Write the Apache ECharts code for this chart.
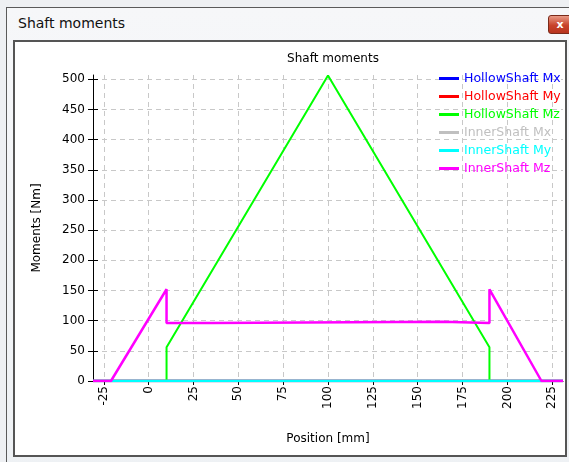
<!DOCTYPE html>
<html>
<head>
<meta charset="utf-8">
<script src="https://cdn.jsdelivr.net/npm/echarts@6/dist/echarts.min.js"></script>
<style>
  html, body { margin: 0; padding: 0; background: #eef0f3; }
  #wrap { position: relative; width: 569px; height: 462px; overflow: hidden; background: #eef0f3; }
  #win { position: absolute; left: 6px; top: 7px; width: 570px; height: 470px; border: 1px solid #5a5a5a; background: linear-gradient(#f6f7f9, #eef1f4); }
  #wtitle { position: absolute; left: 18px; top: 15px; font: 14px "DejaVu Sans", sans-serif; color: #111; }
  #close { position: absolute; left: 548px; top: 15px; width: 22px; height: 17px; border: 1px solid #7a2a1a; border-radius: 3px; background: linear-gradient(#e89a86, #c8432b 55%, #b8341e); color: #fff; font: bold 11px "DejaVu Sans", sans-serif; text-align: center; line-height: 17px; }
  #panel { position: absolute; left: 13px; top: 40px; width: 550px; height: 413px; border: 2px solid #555; background: #fff; }
  #chart { position: absolute; left: 0; top: 0; width: 569px; height: 462px; }
</style>
</head>
<body>
<div id="wrap">
  <div id="win"></div>
  <div id="wtitle">Shaft moments</div>
  <div id="close">x</div>
  <div id="panel"></div>
  <div id="chart"></div>
</div>
<script>
// ---- data ----
const seriesNames = ['HollowShaft Mx', 'HollowShaft My', 'HollowShaft Mz', 'InnerShaft Mx', 'InnerShaft My', 'InnerShaft Mz'];
const seriesColors = ['#0000ff', '#ff0000', '#00ff00', '#c0c0c0', '#00ffff', '#ff00ff'];

const zeroPos = [-31, 231];
const zeroVals = [0, 0];

const hollowMzPos = [-31, 10, 10, 100, 190, 190, 231];
const hollowMzVals = [0, 0, 56, 506, 56, 0, 0];

const innerMzPos = [-31, -21, 10, 10, 35, 35, 164, 164, 190, 190, 219, 231];
const innerMzVals = [0, 0, 152, 96, 96, 98, 98, 96, 96, 152, 0, 0];

const xTickValues = [-25, 0, 25, 50, 75, 100, 125, 150, 175, 200, 225];
const yTickValues = [0, 50, 100, 150, 200, 250, 300, 350, 400, 450, 500];

// ---- build ----
function pairs(xs, ys) { return xs.map((x, i) => [x, ys[i]]); }
const seriesData = [
  pairs(zeroPos, zeroVals),
  pairs(zeroPos, zeroVals),
  pairs(hollowMzPos, hollowMzVals),
  pairs(zeroPos, zeroVals),
  pairs(zeroPos, zeroVals),
  pairs(innerMzPos, innerMzVals)
];

const FONT = '"DejaVu Sans", sans-serif';
const chart = echarts.init(document.getElementById('chart'), null, { renderer: 'canvas' });

chart.setOption({
  backgroundColor: 'transparent',
  animation: false,
  textStyle: { fontFamily: FONT },
  title: {
    text: 'Shaft moments',
    left: 328, top: 48, textAlign: 'center',
    textStyle: { fontFamily: FONT, fontSize: 12, fontWeight: 'normal', color: '#000' }
  },
  legend: {
    orient: 'vertical',
    left: 434, top: 67,
    itemWidth: 20, itemHeight: 14, itemGap: 5,
    icon: 'path://M0,0 L20,0 L20,3 L0,3 Z',
    textStyle: { fontFamily: FONT, fontSize: 12.5 },
    data: seriesNames.map((n, i) => ({ name: n, textStyle: { color: seriesColors[i] } }))
  },
  grid: { left: 93, right: 6, top: 75, bottom: 81, containLabel: false },
  xAxis: {
    type: 'value',
    min: -31, max: 231,
    name: 'Position [mm]',
    nameLocation: 'middle', nameGap: 52,
    nameTextStyle: { fontFamily: FONT, fontSize: 12, color: '#000' },
    axisLine: { show: true, onZero: false, lineStyle: { color: '#000', width: 1 } },
    axisTick: { show: true, length: 4, customValues: xTickValues, lineStyle: { color: '#000' } },
    axisLabel: { rotate: 90, margin: 5, customValues: xTickValues, fontFamily: FONT, fontSize: 12, color: '#000' },
    splitLine: { show: true, lineStyle: { color: '#c8c8c8', type: [5, 4], width: 1 } }
  },
  yAxis: [{
    type: 'value',
    min: 0, max: 507,
    name: 'Moments [Nm]',
    nameLocation: 'middle', nameGap: 50,
    nameTextStyle: { fontFamily: FONT, fontSize: 12, color: '#000' },
    axisLine: { show: true, onZero: false, lineStyle: { color: '#000', width: 1 } },
    axisTick: { show: true, length: 5, customValues: yTickValues, lineStyle: { color: '#000' } },
    axisLabel: { margin: 8, customValues: yTickValues, fontFamily: FONT, fontSize: 12, color: '#000' },
    splitLine: { show: true, lineStyle: { color: '#c8c8c8', type: [5, 4], width: 1 } }
  }, {
    type: 'value',
    min: 0, max: 507,
    position: 'left',
    axisLine: { show: false, onZero: false },
    axisTick: { show: true, inside: true, length: 5, customValues: yTickValues, lineStyle: { color: '#000' } },
    axisLabel: { show: false },
    splitLine: { show: false }
  }],
  series: seriesNames.map((n, i) => ({
    name: n,
    type: 'line',
    yAxisIndex: 0,
    data: seriesData[i],
    symbol: 'none',
    showSymbol: false,
    color: seriesColors[i],
    lineStyle: { color: seriesColors[i], width: (i === 2 ? 2 : 2.5) },
    z: 2 + i
  }))
});
</script>
</body>
</html>
